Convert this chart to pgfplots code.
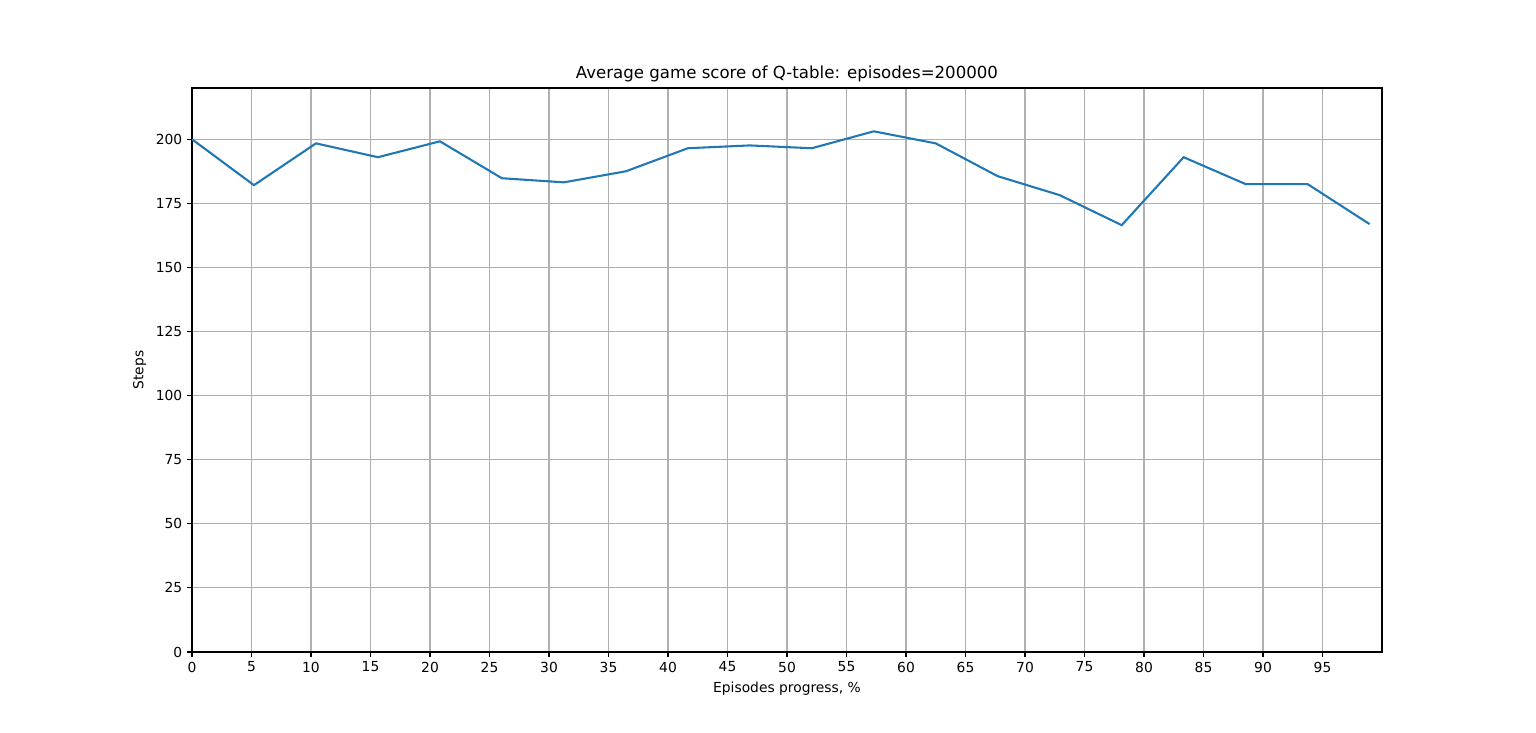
\documentclass[border=0pt]{standalone}
\usepackage{pgfplots}
\pgfplotsset{compat=1.18}
\usepackage{fontspec}
\setmainfont{DejaVu Sans}
\definecolor{mplblue}{HTML}{1F77B4}
\begin{document}
\begin{tikzpicture}
\useasboundingbox (0,0) rectangle (15.36in,7.33in);
\begin{axis}[
  at={(1.92in,0.81in)}, anchor=origin,
  scale only axis, width=11.9in, height=5.64in,
  xmin=0, xmax=100, ymin=0, ymax=220,
  xtick={0,5,...,95}, ytick={0,25,...,200},
  grid=major, grid style={color=black!31, line width=0.8pt},
  tick align=outside, tick pos=left, major tick length=3.5pt,
  tick style={black, line width=0.8pt},
  axis line style={line width=0.8pt},
  ticklabel style={font=\fontsize{10}{12}\selectfont},
  /pgf/number format/assume math mode=true,
  title={Average game score of Q-table: episodes=200000},
  title style={font=\fontsize{12}{14}\selectfont, yshift=-5pt},
  xlabel={Episodes progress, \%}, ylabel={Steps},
  label style={font=\fontsize{10}{12}\selectfont},
]
\addplot[mplblue, line width=1.5pt, mark=none] coordinates {
(0,200) (5.208,182.1) (10.417,198.4) (15.625,193) (20.833,199.2)
(26.042,184.8) (31.25,183.2) (36.458,187.5) (41.667,196.5) (46.875,197.6)
(52.083,196.5) (57.292,203.1) (62.5,198.4) (67.708,185.6) (72.917,178.2)
(78.125,166.5) (83.333,193) (88.542,182.5) (93.75,182.5) (98.958,166.9)
};
\end{axis}
\end{tikzpicture}
\end{document}
